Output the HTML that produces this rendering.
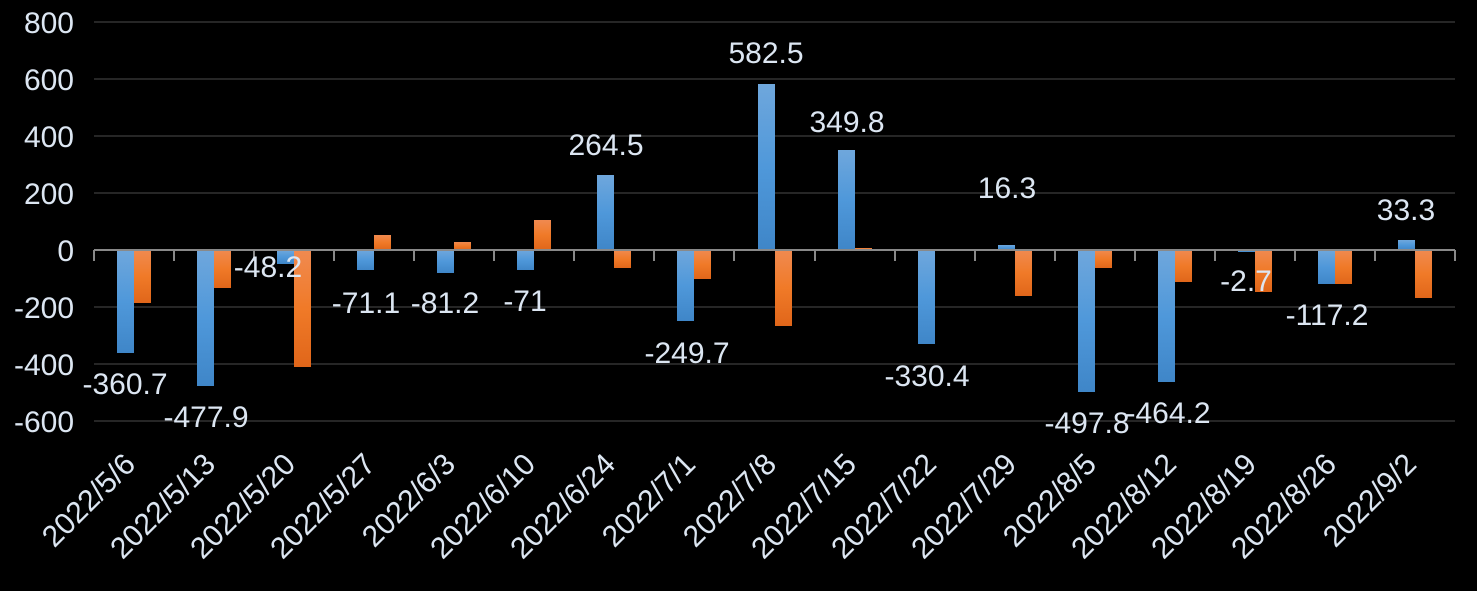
<!DOCTYPE html>
<html><head><meta charset="utf-8"><style>
html,body{margin:0;padding:0;background:#000;}
svg{display:block;font-family:"Liberation Sans","DejaVu Sans",sans-serif;}
</style></head><body>
<svg width="1477" height="591" viewBox="0 0 1477 591" xmlns="http://www.w3.org/2000/svg">
<defs>
<linearGradient id="gb" x1="0" y1="0" x2="0" y2="1"><stop offset="0" stop-color="#6fa7dc"/><stop offset="0.5" stop-color="#4f98da"/><stop offset="1" stop-color="#3f86c8"/></linearGradient>
<linearGradient id="go" x1="0" y1="0" x2="0" y2="1"><stop offset="0" stop-color="#f08a50"/><stop offset="0.5" stop-color="#f07a28"/><stop offset="1" stop-color="#e0661a"/></linearGradient>
</defs>
<rect width="1477" height="591" fill="#000"/>
<g stroke="#262626" stroke-width="2">
<line x1="94" x2="1455" y1="22" y2="22"/><line x1="94" x2="1455" y1="79" y2="79"/><line x1="94" x2="1455" y1="136" y2="136"/><line x1="94" x2="1455" y1="193" y2="193"/><line x1="94" x2="1455" y1="307" y2="307"/><line x1="94" x2="1455" y1="364" y2="364"/><line x1="94" x2="1455" y1="421" y2="421"/>
</g>
<g fill="#dce6f2" font-size="30" text-anchor="end">
<text x="74" y="33">800</text><text x="74" y="90">600</text><text x="74" y="147">400</text><text x="74" y="204">200</text><text x="74" y="261">0</text><text x="74" y="318">-200</text><text x="74" y="375">-400</text><text x="74" y="432">-600</text>
</g>
<g fill="url(#gb)">
<rect x="117" y="250" width="17" height="103"/>
<rect x="197" y="250" width="17" height="136"/>
<rect x="277" y="250" width="17" height="14"/>
<rect x="357" y="250" width="17" height="20"/>
<rect x="437" y="250" width="17" height="23"/>
<rect x="517" y="250" width="17" height="20"/>
<rect x="597" y="175" width="17" height="75"/>
<rect x="677" y="250" width="17" height="71"/>
<rect x="758" y="84" width="17" height="166"/>
<rect x="838" y="150" width="17" height="100"/>
<rect x="918" y="250" width="17" height="94"/>
<rect x="998" y="245" width="17" height="5"/>
<rect x="1078" y="250" width="17" height="142"/>
<rect x="1158" y="250" width="17" height="132"/>
<rect x="1238" y="250" width="17" height="2"/>
<rect x="1318" y="250" width="17" height="34"/>
<rect x="1398" y="240" width="17" height="10"/>
</g>
<g fill="url(#go)">
<rect x="134" y="250" width="17" height="53"/>
<rect x="214" y="250" width="17" height="38"/>
<rect x="294" y="250" width="17" height="117"/>
<rect x="374" y="235" width="17" height="15"/>
<rect x="454" y="242" width="17" height="8"/>
<rect x="534" y="220" width="17" height="30"/>
<rect x="614" y="250" width="17" height="18"/>
<rect x="694" y="250" width="17" height="29"/>
<rect x="775" y="250" width="17" height="76"/>
<rect x="855" y="248" width="17" height="2"/>
<rect x="1015" y="250" width="17" height="46"/>
<rect x="1095" y="250" width="17" height="18"/>
<rect x="1175" y="250" width="17" height="32"/>
<rect x="1255" y="250" width="17" height="42"/>
<rect x="1335" y="250" width="17" height="34"/>
<rect x="1415" y="250" width="17" height="48"/>
</g>
<g stroke="#898989" stroke-width="2">
<line x1="94" x2="1455" y1="250" y2="250"/>
<line x1="94" x2="94" y1="250" y2="261"/><line x1="174" x2="174" y1="250" y2="261"/><line x1="254" x2="254" y1="250" y2="261"/><line x1="334" x2="334" y1="250" y2="261"/><line x1="414" x2="414" y1="250" y2="261"/><line x1="494" x2="494" y1="250" y2="261"/><line x1="574" x2="574" y1="250" y2="261"/><line x1="654" x2="654" y1="250" y2="261"/><line x1="734" x2="734" y1="250" y2="261"/><line x1="815" x2="815" y1="250" y2="261"/><line x1="895" x2="895" y1="250" y2="261"/><line x1="975" x2="975" y1="250" y2="261"/><line x1="1055" x2="1055" y1="250" y2="261"/><line x1="1135" x2="1135" y1="250" y2="261"/><line x1="1215" x2="1215" y1="250" y2="261"/><line x1="1295" x2="1295" y1="250" y2="261"/><line x1="1455" x2="1455" y1="250" y2="261"/><line x1="1375" x2="1375" y1="250" y2="261"/>
</g>
<g fill="#dce6f2" font-size="30" text-anchor="middle">
<text x="125" y="394">-360.7</text>
<text x="206" y="427">-477.9</text>
<text x="268" y="277">-48.2</text>
<text x="366" y="313">-71.1</text>
<text x="445" y="313">-81.2</text>
<text x="525" y="311">-71</text>
<text x="606" y="155">264.5</text>
<text x="687" y="363">-249.7</text>
<text x="766" y="63">582.5</text>
<text x="847" y="132">349.8</text>
<text x="927" y="386">-330.4</text>
<text x="1007" y="198">16.3</text>
<text x="1087" y="433">-497.8</text>
<text x="1168" y="423">-464.2</text>
<text x="1246" y="291">-2.7</text>
<text x="1327" y="325">-117.2</text>
<text x="1406" y="220">33.3</text>
</g>
<g fill="#dce6f2" font-size="30" text-anchor="end">
<text transform="translate(137,466) rotate(-45)">2022/5/6</text>
<text transform="translate(217,466) rotate(-45)">2022/5/13</text>
<text transform="translate(297,466) rotate(-45)">2022/5/20</text>
<text transform="translate(377,466) rotate(-45)">2022/5/27</text>
<text transform="translate(457,466) rotate(-45)">2022/6/3</text>
<text transform="translate(537,466) rotate(-45)">2022/6/10</text>
<text transform="translate(617,466) rotate(-45)">2022/6/24</text>
<text transform="translate(697,466) rotate(-45)">2022/7/1</text>
<text transform="translate(778,466) rotate(-45)">2022/7/8</text>
<text transform="translate(858,466) rotate(-45)">2022/7/15</text>
<text transform="translate(938,466) rotate(-45)">2022/7/22</text>
<text transform="translate(1018,466) rotate(-45)">2022/7/29</text>
<text transform="translate(1098,466) rotate(-45)">2022/8/5</text>
<text transform="translate(1178,466) rotate(-45)">2022/8/12</text>
<text transform="translate(1258,466) rotate(-45)">2022/8/19</text>
<text transform="translate(1338,466) rotate(-45)">2022/8/26</text>
<text transform="translate(1418,466) rotate(-45)">2022/9/2</text>
</g>
</svg>
</body></html>
